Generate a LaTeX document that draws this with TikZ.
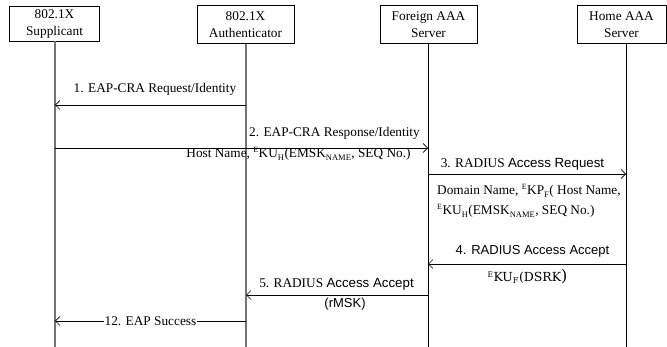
\documentclass[tikz,border=0pt]{standalone}
\usepackage{fontspec}
\setmainfont{Liberation Serif}
\setsansfont{Liberation Sans}
\newfontfamily\camb{DejaVu Serif}
\usetikzlibrary{arrows.meta}
\tikzset{
  actor/.style={draw=black, line width=0.8pt, inner sep=0pt, align=center,
    font=\fontsize{13.3}{17}\selectfont},
  lifeA/.style={draw=black!55, line width=1.6pt},
  lifeB/.style={draw=black, line width=0.9pt},
  msg/.style={draw=black, line width=0.9pt, -{Straight Barb[length=4.5pt,width=9pt,line width=0.7pt]}},
  lbl/.style={inner sep=0pt, font=\fontsize{13.3}{16}\selectfont},
  slbl/.style={inner sep=0pt, font=\sffamily\fontsize{13}{16}\selectfont},
}
\newcommand{\Ekey}[2]{\textsuperscript{\fontsize{8}{9}\selectfont E}K#1\textsubscript{\fontsize{8.5}{9}\selectfont #2}}
\begin{document}
\begin{tikzpicture}[x=1pt,y=-1pt]
\useasboundingbox (0,0) rectangle (667,347);
% actor boxes
\node[actor, minimum width=90pt, minimum height=35pt] (sup) at (54.5,23.5) {802.1X\\Supplicant};
\node[actor, minimum width=97pt, minimum height=38pt] (aut) at (245.5,24.5) {802.1X\\Authenticator};
\node[actor, minimum width=97pt, minimum height=38pt] (for) at (428.5,24.5) {Foreign AAA\\Server};
\node[actor, minimum width=89pt, minimum height=38pt] (hom) at (621.5,24.5) {Home AAA\\Server};
% lifeline ends
\coordinate (supE) at (55,347);
\coordinate (autE) at (246,347);
\coordinate (forE) at (428,347);
\coordinate (homE) at (626,347);
\draw[lifeA] (sup.south -| supE) -- (supE);
\draw[lifeA] (aut.south -| autE) -- (autE);
\draw[lifeB] (for.south -| forE) -- (forE);
\draw[lifeB] (hom.south -| homE) -- (homE);
% message points
\coordinate (m1a) at (246,105); \coordinate (m1b) at (55,105);
\coordinate (m2a) at (55,148);  \coordinate (m2b) at (428,148);
\coordinate (m3a) at (428,174); \coordinate (m3b) at (626,174);
\coordinate (m4a) at (626,264); \coordinate (m4b) at (428,264);
\coordinate (m5a) at (428,295); \coordinate (m5b) at (246,295);
\coordinate (m12a) at (246,321); \coordinate (m12b) at (55,321);
% messages
\draw[msg] (m1a) -- (m1b);
\node[lbl, anchor=base] (l1) at (155,93) {1. EAP-CRA Request/Identity};
\draw[msg] (m2a) -- (m2b);
\node[lbl, anchor=base] (l2) at (334.5,137) {2. EAP-CRA Response/Identity};
\node[lbl, anchor=base] (l2b) at (298.5,158) {Host Name, \Ekey{U}{H}(EMSK\textsubscript{\fontsize{8.5}{9}\selectfont NAME}, SEQ No.)};
\draw[msg] (m3a) -- (m3b);
\node[lbl, anchor=base] (l3) at (522.5,168) {3. RADIUS {\sffamily Access Request}};
\node[lbl, anchor=base west] (l3b) at (437,195) {Domain Name, \Ekey{P}{F}( Host Name,};
\node[lbl, anchor=base west] (l3c) at (437,215) {\Ekey{U}{H}(EMSK\textsubscript{\fontsize{8.5}{9}\selectfont NAME}, SEQ No.)};
\draw[msg] (m4a) -- (m4b);
\node[slbl, anchor=base] (l4) at (532.5,255) {4. RADIUS Access Accept};
\node[lbl, anchor=base] (l4b) at (527.5,282) {\camb\fontsize{12.5}{15}\selectfont\textsuperscript{\fontsize{7.5}{9}\selectfont E}KU\textsubscript{\fontsize{8}{9}\selectfont F}(DSRK\fontsize{16}{16}\selectfont)};
\draw[msg] (m5a) -- (m5b);
\node[lbl, anchor=base] (l5) at (336.5,288) {5. RADIUS {\sffamily Access Accept}};
\node[slbl, anchor=base] (l5b) at (345,308) {(rMSK)};
\draw[msg] (m12a) -- node[lbl, fill=white, inner xsep=0.5pt, inner ysep=1pt] (l12) {12. EAP Success} (m12b);
\end{tikzpicture}
\end{document}
